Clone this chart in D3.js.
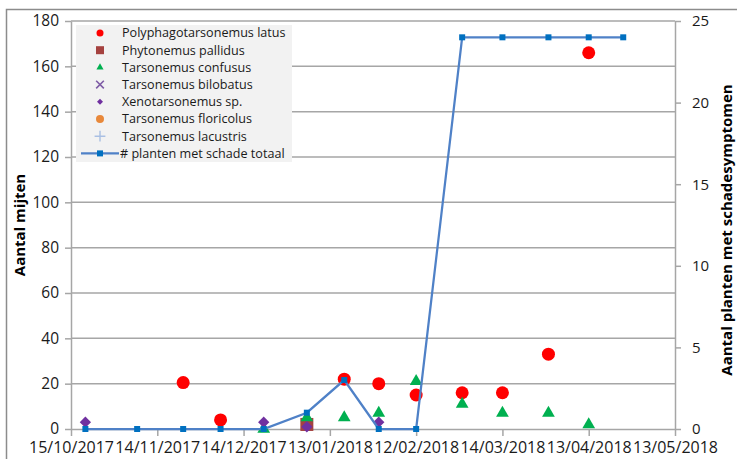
<!DOCTYPE html>
<html><head><meta charset="utf-8">
<script src="https://cdn.jsdelivr.net/npm/d3@7"></script>
<style>
html,body{margin:0;padding:0;background:#fff;}
svg{display:block;font-family:"Open Sans","Noto Sans",sans-serif;}
</style></head>
<body>
<svg id="c" width="737" height="459"></svg>
<script>
// ---- data ----
const dates = ["2017-10-20","2017-11-07","2017-11-23","2017-12-06","2017-12-21","2018-01-05","2018-01-18","2018-01-30","2018-02-12","2018-02-28","2018-03-14","2018-03-30","2018-04-13","2018-04-25"];
const plantenSchade = [0,0,0,0,0,1,3,0,0,24,24,24,24,24];
const polyLatus =  [null,null,20.5,4,null,null,22,20,15,16,16,33,166,null];
const phytPallidus=[null,null,null,null,null,2,null,null,null,null,null,null,null,null];
const tarsConfusus=[null,null,null,null,0,5,5,7,21,11,7,7,2,null];
const tarsBilobatus=[null,null,null,null,null,null,null,null,null,null,null,null,null,null];
const xenoSp =     [3,null,null,null,3,1,null,3,null,null,null,null,null,null];
const tarsFloricolus=[null,null,null,null,null,null,null,null,null,null,null,null,null,null];
const tarsLacustris=[null,null,null,null,null,null,null,null,null,null,null,null,null,null];
const xTickLabels = ["15/10/2017","14/11/2017","14/12/2017","13/01/2018","12/02/2018","14/03/2018","13/04/2018","13/05/2018"];
const yLeftTicks = [0,20,40,60,80,100,120,140,160,180];
const yRightTicks = [0,5,10,15,20,25];
const legendLabels = ["Polyphagotarsonemus latus","Phytonemus pallidus","Tarsonemus confusus","Tarsonemus bilobatus","Xenotarsonemus sp.","Tarsonemus floricolus","Tarsonemus lacustris","# planten met schade totaal"];

const parse = d3.timeParse("%Y-%m-%d");
const parseTick = d3.timeParse("%d/%m/%Y");
const fmtTick = d3.timeFormat("%d/%m/%Y");
const dts = dates.map(parse);
const tickDates = xTickLabels.map(parseTick);

const svg = d3.select("#c");
const L = 71, R = 675, T = 21, B = 429;

// chart frame
svg.append("rect").attr("x",6.5).attr("y",9.5).attr("width",740).attr("height",460)
  .attr("fill","none").attr("stroke","#8c8c8c").attr("stroke-width",1.5);

const x = d3.scaleTime().domain([tickDates[0], tickDates[tickDates.length-1]]).range([L,R]);
const yL = d3.scaleLinear().domain([0,180]).range([B,T]);
const yR = d3.scaleLinear().domain([0,25]).range([B,T]);

// gridlines
svg.append("g").selectAll("line").data(yLeftTicks.slice(1)).join("line")
  .attr("x1",L).attr("x2",R).attr("y1",d=>yL(d)).attr("y2",d=>yL(d))
  .attr("stroke","#a6a6a6").attr("stroke-width",1.5);

const tickFont = g => g.selectAll("text").attr("font-size","15.5px").attr("fill","#1a1a1a")
  .attr("font-family","'Open Sans','Noto Sans',sans-serif");
const axisStyle = g => { g.selectAll("path,line").attr("stroke","#a6a6a6").attr("stroke-width",1.5); };

// left axis
const gL = svg.append("g").attr("transform",`translate(${L},0)`)
  .call(d3.axisLeft(yL).tickValues(yLeftTicks).tickSize(6).tickSizeOuter(0).tickPadding(6));
axisStyle(gL); tickFont(gL);
// right axis
const gR = svg.append("g").attr("transform",`translate(${R},0)`)
  .call(d3.axisRight(yR).tickValues(yRightTicks).tickSize(6).tickSizeOuter(0).tickPadding(11));
axisStyle(gR); tickFont(gR);
gR.selectAll("text").attr("font-size","15px");
// bottom axis
const gB = svg.append("g").attr("transform",`translate(0,${B})`)
  .call(d3.axisBottom(x).tickValues(tickDates).tickFormat(fmtTick).tickSize(7).tickSizeOuter(0).tickPadding(6));
axisStyle(gB); tickFont(gB);
gB.selectAll("text").attr("font-size","16px");

// axis titles
svg.append("text").attr("transform",`translate(25,${(T+B)/2}) rotate(-90)`)
  .attr("text-anchor","middle").attr("font-weight","bold").attr("font-size","15px").attr("fill","#000")
  .text("Aantal mijten");
svg.append("text").attr("transform",`translate(732,${(T+B)/2+5}) rotate(-90)`)
  .attr("text-anchor","middle").attr("font-weight","bold").attr("font-size","15px").attr("fill","#000")
  .text("Aantal planten met schadesymptomen");

// series helpers
function pts(arr){ return arr.map((v,i)=>({d:dts[i],v})).filter(p=>p.v!==null); }
const sym = (type,size)=>d3.symbol().type(type).size(size);

const gM = svg.append("g");
gM.selectAll(".lat").data(pts(polyLatus)).join("circle")
  .attr("cx",p=>x(p.d)).attr("cy",p=>yL(p.v)).attr("r",6.5).attr("fill","#ff0000");
gM.selectAll(".pal").data(pts(phytPallidus)).join("rect")
  .attr("x",p=>x(p.d)-6.5).attr("y",p=>yL(p.v)-6.5).attr("width",13).attr("height",13).attr("fill","#a5423f");
gM.selectAll(".con").data(pts(tarsConfusus)).join("path")
  .attr("transform",p=>`translate(${x(p.d)},${yL(p.v)})`).attr("d",sym(d3.symbolTriangle,70)()).attr("fill","#00b050");
gM.selectAll(".bil").data(pts(tarsBilobatus)).join("path")
  .attr("transform",p=>`translate(${x(p.d)},${yL(p.v)})`).attr("d",sym(d3.symbolX,60)()).attr("stroke","#7e5ca6").attr("stroke-width",1.5).attr("fill","none");
gM.selectAll(".xen").data(pts(xenoSp)).join("path")
  .attr("transform",p=>`translate(${x(p.d)},${yL(p.v)}) rotate(45)`).attr("d",sym(d3.symbolSquare,64)()).attr("fill","#7030a0");
gM.selectAll(".flo").data(pts(tarsFloricolus)).join("circle")
  .attr("cx",p=>x(p.d)).attr("cy",p=>yL(p.v)).attr("r",6).attr("fill","#e8883a");
gM.selectAll(".lac").data(pts(tarsLacustris)).join("path")
  .attr("transform",p=>`translate(${x(p.d)},${yL(p.v)})`).attr("d",sym(d3.symbolPlus,50)()).attr("stroke","#8eaadb").attr("stroke-width",1.5).attr("fill","none");

// line series on secondary axis
const line = d3.line().x(p=>x(p.d)).y(p=>yR(p.v));
svg.append("path").datum(pts(plantenSchade)).attr("d",line)
  .attr("fill","none").attr("stroke","#4f81c7").attr("stroke-width",2.25);
svg.append("g").selectAll("rect").data(pts(plantenSchade)).join("rect")
  .attr("x",p=>x(p.d)-3).attr("y",p=>yR(p.v)-3).attr("width",6).attr("height",6).attr("fill","#0070c0");

// legend
const lg = svg.append("g");
lg.append("rect").attr("x",76).attr("y",25).attr("width",216).attr("height",137).attr("fill","#f2f2f2");
const rowY = i => 33 + i*17.2;
const sx = 100;
lg.append("circle").attr("cx",sx).attr("cy",rowY(0)).attr("r",3.5).attr("fill","#ff0000");
lg.append("rect").attr("x",sx-4).attr("y",rowY(1)-4).attr("width",8).attr("height",8).attr("fill","#a5423f");
lg.append("path").attr("transform",`translate(${sx},${rowY(2)})`).attr("d",sym(d3.symbolTriangle,22)()).attr("fill","#00b050");
lg.append("path").attr("transform",`translate(${sx},${rowY(3)})`).attr("d",sym(d3.symbolX,40)()).attr("stroke","#7e5ca6").attr("stroke-width",1.6).attr("fill","none");
lg.append("path").attr("transform",`translate(${sx},${rowY(4)}) rotate(45)`).attr("d",sym(d3.symbolSquare,18)()).attr("fill","#7030a0");
lg.append("circle").attr("cx",sx).attr("cy",rowY(5)).attr("r",4).attr("fill","#e8883a");
lg.append("path").attr("transform",`translate(${sx},${rowY(6)})`).attr("d",sym(d3.symbolPlus,40)()).attr("stroke","#a9bfe3").attr("stroke-width",1.4).attr("fill","none");
lg.append("line").attr("x1",81).attr("x2",119).attr("y1",rowY(7)).attr("y2",rowY(7)).attr("stroke","#4f81c7").attr("stroke-width",2.25);
lg.append("rect").attr("x",sx-3).attr("y",rowY(7)-3).attr("width",6).attr("height",6).attr("fill","#0070c0");
lg.selectAll("text.l").data(legendLabels).join("text")
  .attr("x",(d,i)=> i===7 ? 120 : 122).attr("y",(d,i)=>rowY(i)).attr("dy","0.35em")
  .attr("font-size","12.6px").attr("fill","#1a1a1a").text(d=>d);
</script>
</body></html>
